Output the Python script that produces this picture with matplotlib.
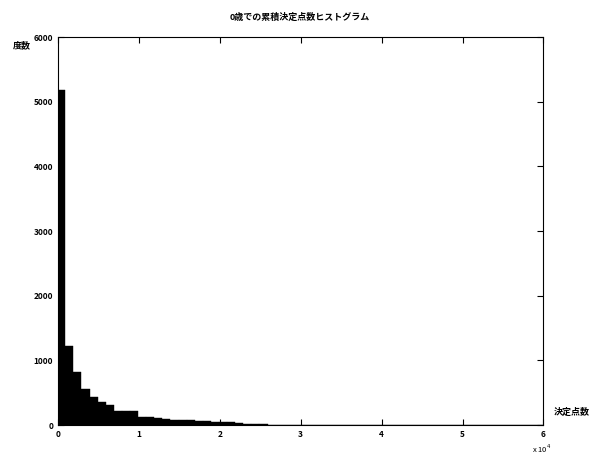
import numpy as np
import matplotlib.pyplot as plt

plt.rcParams['font.family'] = ['Noto Sans CJK JP', 'DejaVu Sans']

# 度数 (ビン幅 1000 点)
bin_start = -100
bin_width = 1000
counts = [5180, 1225, 825, 555, 440, 355, 305, 215, 215, 210,
          130, 125, 105, 100, 78, 75, 70, 57, 55, 52,
          50, 48, 30, 20, 12, 9, 7, 6, 5, 4,
          4, 3, 3, 2, 2, 2, 1, 1, 1, 1,
          1, 1, 1, 0, 1, 0, 0, 1, 0, 1,
          0, 0, 1, 1, 1, 0, 0, 0, 0, 0]
xticks = [0, 10000, 20000, 30000, 40000, 50000, 60000]
xticklabels = ['0', '1', '2', '3', '4', '5', '6']
yticks = [0, 1000, 2000, 3000, 4000, 5000, 6000]

title = '0歳での累積決定点数ヒストグラム'
ylab = '度数'
xlab = '決定点数'

edges = bin_start + bin_width * np.arange(len(counts) + 1)

fig = plt.figure(figsize=(5.92, 4.57), dpi=100)
ax = fig.add_axes([0.098, 0.070, 0.820, 0.849])

ax.bar(edges[:-1], counts, width=bin_width, align='edge',
       color='black', edgecolor='black', linewidth=0.3)

ax.set_xlim(0, 60000)
ax.set_ylim(0, 6000)
ax.set_xticks(xticks)
ax.set_xticklabels(xticklabels)
ax.set_yticks(yticks)
ax.tick_params(direction='in', top=True, right=True, length=4,
               labelsize=6, width=0.8)
for lab in ax.get_xticklabels() + ax.get_yticklabels():
    lab.set_fontweight('bold')
for sp in ax.spines.values():
    sp.set_linewidth(0.8)

fig.text(0.507, 0.962, title, ha='center', va='center', fontsize=6.5,
         fontweight='bold')
fig.text(0.037, 0.900, ylab, ha='center', va='center', fontsize=6.5,
         fontweight='bold')
fig.text(0.966, 0.097, xlab, ha='center', va='center', fontsize=6.5,
         fontweight='bold')
fig.text(0.915, 0.018, r'x 10$^4$', ha='center', va='center', fontsize=5.5)

fig.savefig('out.png', dpi=100)
